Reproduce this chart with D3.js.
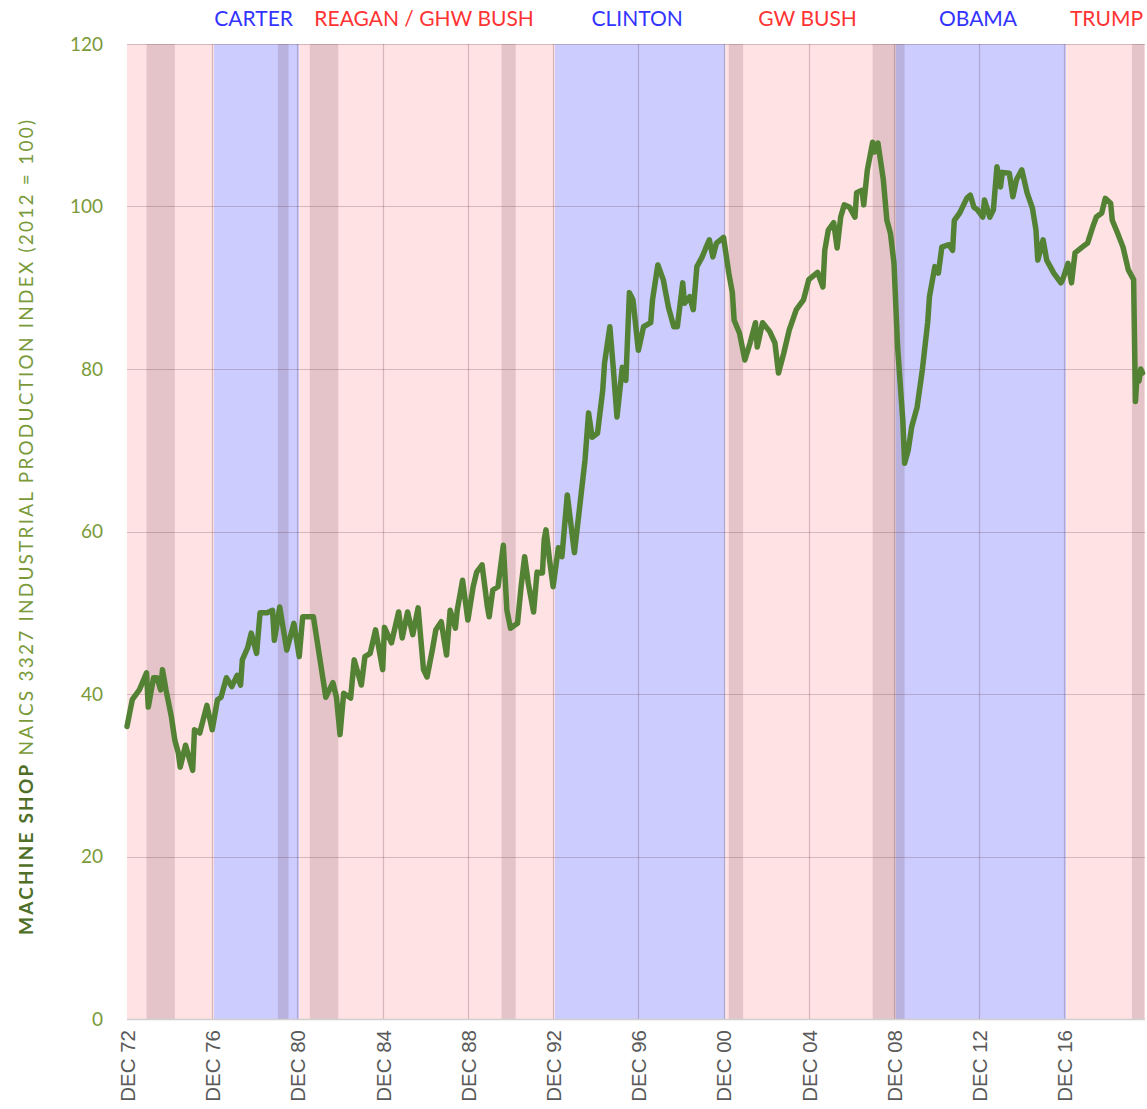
<!DOCTYPE html>
<html>
<head>
<meta charset="utf-8">
<script src="https://cdn.jsdelivr.net/npm/d3@7"></script>
<style>
  body { margin: 0; background: #fff; }
  svg { display: block; }
</style>
</head>
<body>
<svg id="graph"></svg>
<script>
//data: month + machine shop IP index (2012 = 100)
var months = ["1972-12","1973-03","1973-07","1973-11","1973-12","1974-03","1974-05","1974-07","1974-08","1974-10",
  "1975-01","1975-03","1975-05","1975-06","1975-09","1976-01","1976-02","1976-05","1976-09","1976-12",
  "1977-03","1977-05","1977-08","1977-11","1978-02","1978-04","1978-05","1978-08","1978-10","1979-01",
  "1979-03","1979-07","1979-10","1979-11","1980-02","1980-06","1980-10","1981-01","1981-03","1981-09",
  "1982-01","1982-04","1982-08","1982-10","1982-12","1983-02","1983-06","1983-08","1983-12","1984-02",
  "1984-05","1984-08","1984-12","1985-01","1985-05","1985-09","1985-11","1986-02","1986-05","1986-08",
  "1986-11","1987-01","1987-04","1987-06","1987-09","1987-12","1988-02","1988-05","1988-06","1988-09",
  "1988-12","1989-03","1989-05","1989-08","1989-11","1989-12","1990-02","1990-05","1990-08","1990-10",
  "1990-12","1991-04","1991-06","1991-08","1991-10","1992-01","1992-03","1992-06","1992-07","1992-08",
  "1992-10","1992-12","1993-03","1993-05","1993-08","1993-12","1994-03","1994-06","1994-08","1994-10",
  "1995-01","1995-04","1995-05","1995-08","1995-10","1995-12","1996-03","1996-05","1996-07","1996-09",
  "1996-12","1997-03","1997-07","1997-08","1997-11","1998-02","1998-05","1998-08","1998-10","1999-01",
  "1999-02","1999-05","1999-07","1999-09","1999-12","2000-02","2000-04","2000-06","2000-08","2000-12",
  "2001-03","2001-05","2001-06","2001-09","2001-12","2002-03","2002-06","2002-07","2002-10","2003-02",
  "2003-05","2003-07","2003-10","2004-01","2004-05","2004-09","2004-12","2005-05","2005-08","2005-09",
  "2005-11","2006-02","2006-04","2006-06","2006-08","2006-11","2007-02","2007-03","2007-06","2007-07",
  "2007-09","2007-12","2008-01","2008-03","2008-06","2008-08","2008-10","2008-12","2009-02","2009-05",
  "2009-06","2009-08","2009-10","2010-01","2010-04","2010-07","2010-08","2010-11","2011-01","2011-03",
  "2011-07","2011-09","2011-10","2012-01","2012-05","2012-07","2012-09","2012-11","2013-02","2013-03",
  "2013-06","2013-08","2013-10","2013-12","2014-01","2014-05","2014-07","2014-09","2014-12","2015-03",
  "2015-06","2015-08","2015-09","2015-12","2016-02","2016-06","2016-10","2016-11","2017-02","2017-04",
  "2017-06","2017-10","2018-01","2018-04","2018-06","2018-09","2018-11","2019-02","2019-03","2019-06",
  "2019-09","2019-12","2020-03","2020-04","2020-05","2020-06","2020-07","2020-08"]

var index = [36.0,39.3,40.5,42.6,38.4,42.0,42.0,40.5,43.0,40.5,
  37.2,34.3,32.7,31.0,33.7,30.6,35.6,35.2,38.6,35.6,
  39.3,39.6,42.0,40.9,42.3,41.1,44.2,45.7,47.5,45.0,
  50.0,50.0,50.3,46.6,50.7,45.4,48.7,44.6,49.5,49.5,
  43.8,39.6,41.4,39.6,35.0,40.1,39.5,44.2,41.1,44.6,
  45.0,47.9,43.0,48.2,46.3,50.1,46.9,50.1,47.3,50.6,
  43.0,42.1,45.4,47.9,48.9,44.8,50.3,48.1,50.3,54.0,
  49.1,53.2,55.0,55.9,50.7,49.5,52.8,53.2,58.3,50.3,
  48.1,48.7,53.2,56.9,53.7,50.1,55.0,54.9,59.0,60.2,
  56.5,53.2,58.0,56.9,64.5,57.4,63.0,68.8,74.6,71.6,
  72.1,77.4,80.7,85.2,79.9,74.1,80.2,78.6,89.4,88.5,
  82.3,85.2,85.7,88.5,92.8,91.0,87.6,85.2,85.2,90.6,
  88.1,88.9,87.3,92.6,93.8,94.9,95.9,93.8,95.5,96.2,
  91.8,89.4,86.0,84.4,81.1,83.2,85.7,82.7,85.7,84.6,
  83.2,79.5,82.0,84.8,87.3,88.5,91.0,91.9,90.1,94.6,
  97.1,98.0,94.9,98.7,100.2,99.9,98.7,101.7,102.0,100.2,
  104.5,107.9,106.7,107.8,103.3,98.3,96.7,93.0,82.7,73.7,
  68.4,70.0,72.9,75.3,79.9,85.7,88.9,92.6,91.8,95.0,
  95.3,94.6,98.3,99.2,101.0,101.4,99.9,99.6,98.7,100.8,
  98.7,99.6,104.9,102.4,104.2,104.1,101.2,103.3,104.5,101.7,
  99.8,97.1,93.4,95.9,93.4,91.8,90.6,91.0,93.0,90.6,
  94.3,95.0,95.5,97.5,98.7,99.2,101.0,100.4,98.3,96.7,
  95.0,92.2,91.0,76.0,79.5,78.5,80.0,79.5]

//presidencies
var presNames = ["","CARTER","REAGAN / GHW BUSH","CLINTON","GW BUSH","OBAMA","TRUMP"]
var presStart = ["1972-12","1977-01","1981-01","1993-01","2001-01","2009-01","2017-01"]
var presParty = ["R","D","R","D","R","D","R"]

//recessions (NBER)
var recStart = ["1973-11","1980-01","1981-07","1990-07","2001-03","2007-12","2020-02"]
var recEnd   = ["1975-03","1980-07","1982-11","1991-03","2001-11","2009-06","2020-09"]

var tickYears = [1972,1976,1980,1984,1988,1992,1996,2000,2004,2008,2012,2016]
var yTicks = [0,20,40,60,80,100,120]

var parse = d3.timeParse("%Y-%m")
var endDate = new Date(2020, 8, 12)

var svg = d3.select('#graph')
	.attr('width',1147)
	.attr('height',1109)

var plot = {left:127, right:1145, top:44, bottom:1019}

//scales
var x = d3.scaleTime()
	.domain([parse("1972-12"), endDate])
	.range([plot.left, plot.right])
var y = d3.scaleLinear()
	.domain([0,120])
	.range([plot.bottom, plot.top])

var partyFill = {R:"#ffe2e4", D:"#ccccff"}
var partyText = {R:"#ff3333", D:"#3333ff"}

//presidency bands
var pres = presNames.map(function(n,i){
	return {
		name:n,
		start:parse(presStart[i]),
		end: i < presNames.length-1 ? parse(presStart[i+1]) : endDate,
		party:presParty[i]
	}
})

svg.append('g').selectAll('rect')
	.data(pres)
	.enter()
	.append('rect')
	.attr('x',function(d){ return x(d.start) })
	.attr('width',function(d){ return x(d.end) - x(d.start) })
	.attr('y',plot.top)
	.attr('height',plot.bottom - plot.top)
	.attr('fill',function(d){ return partyFill[d.party] })

//recession bands
svg.append('g').selectAll('rect')
	.data(recStart)
	.enter()
	.append('rect')
	.attr('x',function(d){ return x(parse(d)) })
	.attr('width',function(d,i){ return Math.min(x(parse(recEnd[i])), plot.right) - x(parse(d)) })
	.attr('y',plot.top)
	.attr('height',plot.bottom - plot.top)
	.attr('fill','#5a2a3a')
	.attr('fill-opacity',0.16)

//gridlines
var grid = svg.append('g')
	.attr('stroke','rgb(90,50,60)')
	.attr('stroke-opacity',0.25)
	.attr('stroke-width',1.2)

grid.selectAll('.hg')
	.data(yTicks.filter(function(d){ return d > 0 }))
	.enter()
	.append('line')
	.attr('x1',plot.left).attr('x2',plot.right)
	.attr('y1',function(d){ return Math.round(y(d)) + 0.5 })
	.attr('y2',function(d){ return Math.round(y(d)) + 0.5 })

grid.selectAll('.vg')
	.data(tickYears.slice(1))
	.enter()
	.append('line')
	.attr('y1',plot.top).attr('y2',plot.bottom)
	.attr('x1',function(d){ return Math.round(x(new Date(d,11,1))) + 0.5 })
	.attr('x2',function(d){ return Math.round(x(new Date(d,11,1))) + 0.5 })

//bottom axis line
svg.append('line')
	.attr('x1',plot.left).attr('x2',plot.right)
	.attr('y1',plot.bottom + 0.5).attr('y2',plot.bottom + 0.5)
	.attr('stroke','#d0d0d0')
	.attr('stroke-width',1.5)

//x axis labels
var xaxis = svg.append('g')
	.attr('transform','translate(0,'+plot.bottom+')')
	.call(d3.axisBottom(x)
		.tickValues(tickYears.map(function(d){ return new Date(d,11,1) }))
		.tickSize(0)
		.tickFormat(function(d){ return "DEC " + d3.timeFormat("%y")(d) }))
xaxis.select('.domain').remove()
xaxis.selectAll('text')
	.attr('transform','rotate(-90)')
	.attr('text-anchor','end')
	.attr('x',-11)
	.attr('y',0)
	.attr('dy','0.36em')
	.style('font-family','"Liberation Sans", Arial, sans-serif')
	.style('font-size','20.5px')
	.attr('fill','#595959')

//y axis labels
var yaxis = svg.append('g')
	.attr('transform','translate(103,0)')
	.call(d3.axisLeft(y).tickValues(yTicks).tickSize(0).tickPadding(0))
yaxis.select('.domain').remove()
yaxis.selectAll('text')
	.style('font-family','Lato, "Open Sans", sans-serif')
	.style('font-size','19px')
	.attr('fill','#7a9a3a')

//y title
var ytitle = svg.append('text')
	.attr('transform','translate(33,'+(935)+') rotate(-90)')
	.attr('text-anchor','start')
	.attr('textLength',815)
	.attr('lengthAdjust','spacing')
	.style('font-family','Lato, "Open Sans", sans-serif')
	.style('font-size','19px')
ytitle.append('tspan')
	.attr('font-weight','bold')
	.attr('fill','#4f6f28')
	.text('MACHINE SHOP')
ytitle.append('tspan')
	.attr('fill','#7a9a3a')
	.text(' NAICS 3327 INDUSTRIAL PRODUCTION INDEX (2012 = 100)')

//president names, centred on each term (last one runs off the edge)
svg.append('g').selectAll('text')
	.data(pres.filter(function(d){ return d.name }))
	.enter()
	.append('text')
	.attr('x',function(d){
		if (d.end === endDate) return plot.right - 2
		return (x(d.start)+x(d.end))/2 - 3
	})
	.attr('y',26)
	.attr('text-anchor',function(d){ return d.end === endDate ? 'end' : 'middle' })
	.style('font-family','Lato, "Open Sans", sans-serif')
	.style('font-size','21px')
	.attr('fill',function(d){ return partyText[d.party] })
	.text(function(d){ return d.name })

//the line
var line = d3.line()
	.x(function(d,i){ return x(parse(months[i])) })
	.y(function(d){ return y(d) })

svg.append('path')
	.datum(index)
	.attr('d',line)
	.attr('fill','none')
	.attr('stroke','#548235')
	.attr('stroke-width',5.5)
	.attr('stroke-linejoin','round')
	.attr('stroke-linecap','round')
</script>
</body>
</html>
